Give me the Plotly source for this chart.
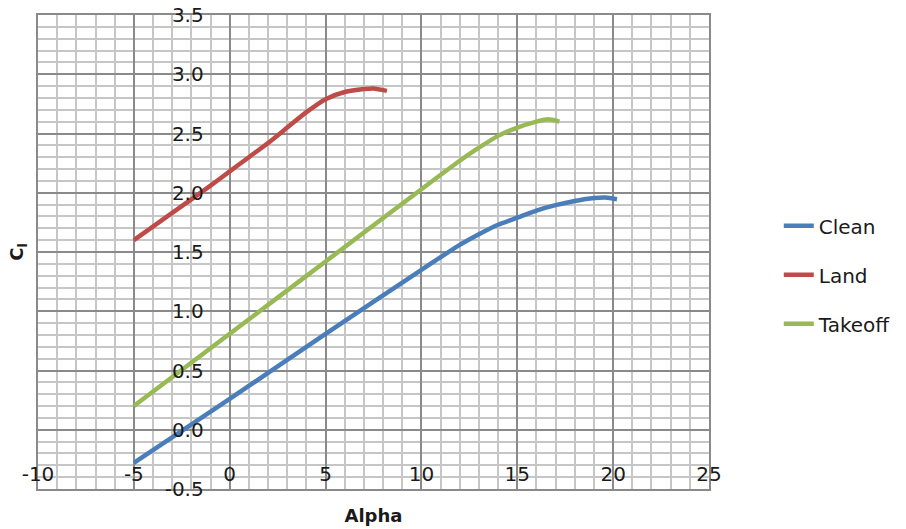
import plotly.graph_objects as go

# Data
clean_alpha = [-5, 0, 5, 10, 12, 13, 14, 15, 16, 17, 18, 19, 19.6, 20.2]
clean_cl = [-0.28, 0.26, 0.81, 1.35, 1.56, 1.65, 1.73, 1.79, 1.85, 1.895, 1.93, 1.955, 1.96, 1.945]

land_alpha = [-5, -3, -1, 0, 1, 2, 3, 4, 5, 6, 7, 7.5, 8.2]
land_cl = [1.60, 1.83, 2.06, 2.18, 2.30, 2.42, 2.55, 2.68, 2.79, 2.85, 2.875, 2.88, 2.86]

takeoff_alpha = [-5, 0, 5, 10, 12, 13, 14, 15, 16, 16.6, 17.2]
takeoff_cl = [0.20, 0.81, 1.42, 2.03, 2.27, 2.38, 2.48, 2.55, 2.60, 2.62, 2.60]

series_names = ["Clean", "Land", "Takeoff"]
series_colors = ["#4A7EBB", "#BE4B48", "#98B954"]

x_range = [-10, 25]
y_range = [-0.5, 3.5]
x_ticks = [-10, -5, 0, 5, 10, 15, 20, 25]
y_ticks = [-0.5, 0.0, 0.5, 1.0, 1.5, 2.0, 2.5, 3.0, 3.5]

FONT = "DejaVu Sans"
TEXT = "#1a1a1a"
MAJOR = "#8a8a8a"
MINOR = "#c6c6c6"

fig = go.Figure()
for name, xs, ys, col in zip(series_names,
                             [clean_alpha, land_alpha, takeoff_alpha],
                             [clean_cl, land_cl, takeoff_cl],
                             series_colors):
    fig.add_trace(go.Scatter(x=xs, y=ys, mode="lines", name=name,
                             legendgroup=name,
                             line=dict(color=col, width=4.5, shape="spline", smoothing=0.6)))

# invisible trace to carry the overlay axes for tick labels
fig.add_trace(go.Scatter(x=x_range, y=y_range, xaxis="x2", yaxis="y2", mode="lines",
                         line=dict(width=0), showlegend=False, hoverinfo="skip"))

fig.update_layout(
    width=906, height=529,
    margin=dict(l=38, r=197, t=15, b=40, autoexpand=False),
    paper_bgcolor="white", plot_bgcolor="white",
    font=dict(family=FONT, size=20, color=TEXT),
    showlegend=True,
    legend=dict(x=1.104, xanchor="left", y=0.452, yanchor="middle",
                font=dict(family=FONT, size=20, color=TEXT),
                tracegroupgap=20, bgcolor="rgba(0,0,0,0)"),
    xaxis=dict(range=x_range, tickvals=x_ticks, showticklabels=False,
               showgrid=True, gridcolor=MAJOR, gridwidth=1.5,
               minor=dict(dtick=1, showgrid=True, gridcolor=MINOR, gridwidth=1.5),
               showline=True, linecolor=MAJOR, linewidth=1.5, mirror=True,
               zeroline=False, automargin=False,
               title=dict(text="<b>Alpha</b>", font=dict(family=FONT, size=18, color=TEXT),
                          standoff=20)),
    yaxis=dict(range=y_range, tickvals=y_ticks, showticklabels=False,
               showgrid=True, gridcolor=MAJOR, gridwidth=1.5,
               minor=dict(dtick=0.1, showgrid=True, gridcolor=MINOR, gridwidth=1.5),
               showline=True, linecolor=MAJOR, linewidth=1.5, mirror=True,
               zeroline=False, automargin=False,
               title=dict(text="<b>C<sub>l</sub></b>", font=dict(family=FONT, size=18, color=TEXT),
                          standoff=8)),
    xaxis2=dict(range=x_range, overlaying="x", anchor="free", position=0.069,
                tickvals=x_ticks, ticktext=[str(v) for v in x_ticks],
                showgrid=False, zeroline=False, showline=False, automargin=False,
                ticks="outside", ticklen=0, tickfont=dict(family=FONT, size=20, color=TEXT)),
    yaxis2=dict(range=y_range, overlaying="y", anchor="free", position=10 / 35,
                tickvals=y_ticks, ticktext=[f"{v:.1f}" for v in y_ticks],
                showgrid=False, zeroline=False, showline=False, automargin=False,
                ticks="outside", ticklen=22, tickcolor="rgba(0,0,0,0)",
                tickfont=dict(family=FONT, size=20, color=TEXT)),
)

fig.write_html("out.html")
